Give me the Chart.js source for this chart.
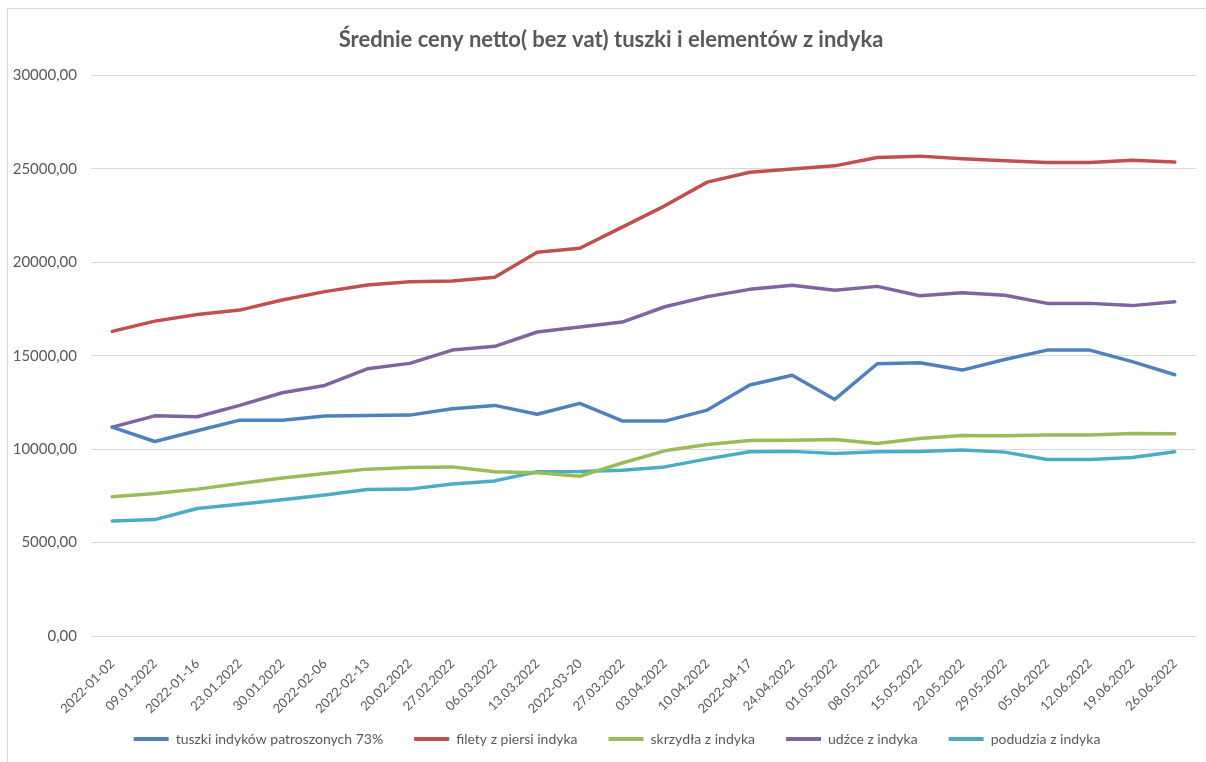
<!DOCTYPE html>
<html>
<head>
<meta charset="utf-8">
<script src="https://cdn.jsdelivr.net/npm/chart.js@4.4.0/dist/chart.umd.min.js"></script>
<style>
  html, body { margin: 0; padding: 0; background: #fff; }
  #wrap { position: relative; width: 1206px; height: 762px; overflow: hidden; }
  #frame { position: absolute; left: 7px; top: 8px; width: 1300px; height: 900px; border: 1.5px solid #d9d9d9; box-sizing: border-box; }
  canvas { position: absolute; left: 0; top: 0; }
</style>
</head>
<body>
<div id="wrap">
  <div id="frame"></div>
  <canvas id="c" width="1206" height="762"></canvas>
</div>
<script>
const categories = ["2022-01-02","09.01.2022","2022-01-16","23.01.2022","30.01.2022","2022-02-06","2022-02-13","20.02.2022","27.02.2022","06.03.2022","13.03.2022","2022-03-20","27.03.2022","03.04.2022","10.04.2022","2022-04-17","24.04.2022","01.05.2022","08.05.2022","15.05.2022","22.05.2022","29.05.2022","05.06.2022","12.06.2022","19.06.2022","26.06.2022"];

const tuszki   = [11180,10410,10980,11550,11550,11770,11800,11820,12160,12340,11870,12450,11510,11500,12090,13430,13950,12660,14570,14620,14230,14800,15300,15300,14680,13980];
const filety   = [16300,16850,17210,17440,17980,18430,18780,18960,19000,19200,20540,20750,21880,23020,24290,24820,24990,25160,25610,25680,25540,25430,25340,25340,25460,25360];
const skrzydla = [7450,7620,7860,8160,8460,8690,8930,9020,9050,8790,8730,8550,9260,9910,10250,10460,10480,10520,10300,10570,10730,10710,10750,10750,10840,10820];
const udzce    = [11180,11780,11730,12340,13020,13410,14300,14590,15300,15500,16270,16540,16800,17620,18160,18550,18770,18500,18710,18210,18370,18230,17800,17800,17680,17890];
const podudzia = [6160,6230,6820,7050,7290,7540,7840,7860,8130,8300,8790,8800,8870,9050,9480,9860,9880,9770,9860,9880,9950,9840,9450,9450,9550,9860];

const yMin = 0, yMax = 30000, yStep = 5000;
const title = "Średnie ceny netto( bez vat) tuszki i elementów z indyka";

const series = [
  { label: "tuszki indyków patroszonych 73%", data: tuszki,   color: "#4F81BD" },
  { label: "filety z piersi indyka",          data: filety,   color: "#C0504D" },
  { label: "skrzydła z indyka",               data: skrzydla, color: "#9BBB59" },
  { label: "udźce z indyka",                  data: udzce,    color: "#8064A2" },
  { label: "podudzia z indyka",               data: podudzia, color: "#4BACC6" }
];

const FONT = "Lato, 'Open Sans', sans-serif";
const TXT = "#595959";

// shift title / legend centres to where the reference has them; let x labels extend lower
const layoutTweak = {
  id: "layoutTweak",
  afterLayout(chart) {
    if (chart.titleBlock) { chart.titleBlock.left = 26; chart.titleBlock.right = 1196; }
    if (chart.legend) { chart.legend.left = 38; chart.legend.right = 1196; }
    if (chart.scales.x) { chart.scales.x.bottom = chart.scales.x.top + 90; }
  }
};

new Chart(document.getElementById("c"), {
  type: "line",
  data: {
    labels: categories,
    datasets: series.map(s => ({
      label: s.label,
      data: s.data,
      borderColor: s.color,
      backgroundColor: s.color,
      borderWidth: 3.5,
      pointRadius: 0,
      pointHoverRadius: 0,
      tension: 0,
      borderCapStyle: "round",
      borderJoinStyle: "round",
      fill: false
    }))
  },
  plugins: [layoutTweak],
  options: {
    responsive: false,
    animation: false,
    layout: { padding: { left: 8, right: 10, top: 20, bottom: 6 } },
    plugins: {
      title: {
        display: true,
        text: title,
        color: TXT,
        font: { family: FONT, size: 22, weight: "bold" },
        padding: { top: 7, bottom: 22 }
      },
      legend: {
        position: "bottom",
        labels: {
          color: TXT,
          font: { family: FONT, size: 14 },
          boxWidth: 35,
          boxHeight: 4,
          padding: 31,
          generateLabels(chart) {
            const items = Chart.defaults.plugins.legend.labels.generateLabels(chart);
            items.forEach(it => { it.lineWidth = 0; });
            return items;
          }
        }
      },
      tooltip: { enabled: false }
    },
    scales: {
      x: {
        type: "category",
        offset: true,
        grid: { display: false, drawTicks: false },
        border: { display: false },
        ticks: {
          color: TXT,
          font: { family: FONT, size: 13 },
          minRotation: 45,
          maxRotation: 45,
          autoSkip: false,
          padding: 20
        },
        afterFit(scale) { scale.height = 65; }
      },
      y: {
        min: yMin,
        max: yMax,
        grid: { color: "#d9d9d9", lineWidth: 1, drawTicks: false },
        border: { display: false },
        ticks: {
          stepSize: yStep,
          color: TXT,
          font: { family: FONT, size: 15 },
          padding: 14,
          callback: v => Number(v).toFixed(2).replace(".", ",")
        },
        afterFit(scale) { scale.width = 83; }
      }
    }
  }
});
</script>
</body>
</html>
